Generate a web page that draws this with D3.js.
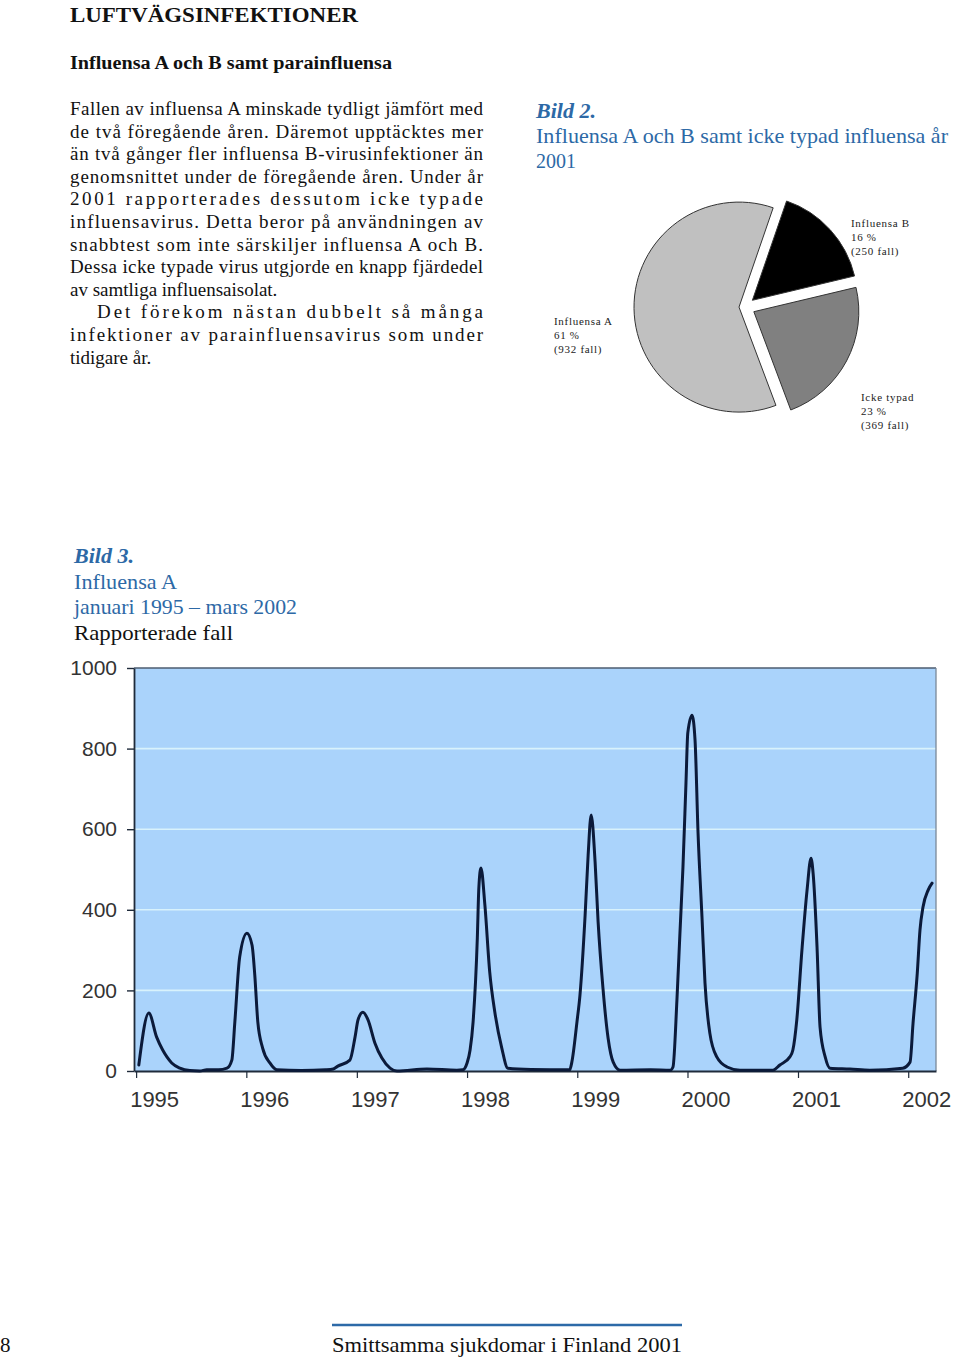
<!DOCTYPE html>
<html><head><meta charset="utf-8">
<script src="https://cdn.jsdelivr.net/npm/d3@7"></script>
<style>
html,body{margin:0;padding:0;background:#fff;}
svg{display:block;}
</style></head>
<body>
<svg id="page" width="960" height="1360"></svg>
<script>
// ---------- DATA ----------
const pieCategories = ["Influensa B", "Icke typad", "Influensa A"];
const piePercents = [16, 23, 61];
const pieCases = [250, 369, 932];

const seriesDates = [
 "1995-01-10","1995-02-12","1995-03-10","1995-03-30","1995-04-13","1995-04-29","1995-05-26","1995-06-28","1995-07-31","1995-08-23","1995-10-01","1995-10-29","1995-11-14","1995-11-24","1995-12-10",
 "1996-01-03","1996-01-20","1996-01-29","1996-02-08","1996-02-24","1996-03-19","1996-04-11","1996-07-01","1996-09-20","1996-10-15","1996-10-30","1996-12-09","1996-12-26",
 "1997-01-05","1997-01-21","1997-02-07","1997-03-02","1997-03-25","1997-04-21","1997-05-14","1997-08-21","1997-11-28","1997-12-18",
 "1998-01-01","1998-01-11","1998-01-21","1998-02-04","1998-02-09","1998-02-16","1998-03-01","1998-03-17","1998-04-03","1998-04-26","1998-05-16","1998-08-01","1998-12-07","1998-12-14","1998-12-31",
 "1999-01-10","1999-01-27","1999-02-06","1999-02-16","1999-03-01","1999-03-11","1999-03-27","1999-04-13","1999-04-30","1999-05-23","1999-09-01","1999-11-05","1999-11-14","1999-11-27","1999-12-07","1999-12-17","1999-12-27",
 "2000-01-02","2000-01-16","2000-01-26","2000-02-05","2000-02-18","2000-02-28","2000-03-15","2000-04-07","2000-05-11","2000-06-23","2000-10-10","2000-11-02","2000-12-05","2000-12-15","2000-12-28",
 "2001-01-14","2001-01-31","2001-02-13","2001-02-20","2001-03-05","2001-03-15","2001-04-01","2001-04-17","2001-06-22","2001-08-27","2001-12-14",
 "2002-01-07","2002-01-17","2002-01-31","2002-02-09","2002-02-19","2002-03-08","2002-03-21"
];
const seriesValues = [
 15,144,84,52,35,20,7,1,0,3,3,7,27,122,283,
 342,312,238,122,57,20,3,1,3,5,12,27,84,
 127,146,127,69,32,7,0,5,2,3,
 20,52,122,330,454,504,412,246,146,57,7,4,3,22,122,
 189,387,536,635,519,370,206,82,22,2,3,2,10,176,342,506,715,
 839,883,821,590,382,218,94,35,10,2,2,15,35,52,127,
 300,449,528,491,308,109,35,7,5,2,7,
 22,119,243,350,407,449,466
];
const yTicks = [0, 200, 400, 600, 800, 1000];
const xTickYears = [1995, 1996, 1997, 1998, 1999, 2000, 2001, 2002];

// ---------- TEXT ----------
const bodyLines = [
 {t:"Fallen av influensa A minskade tydligt jämfört med", j:true},
 {t:"de två föregående åren. Däremot upptäcktes mer", j:true},
 {t:"än två gånger fler influensa B-virusinfektioner än", j:true},
 {t:"genomsnittet under de föregående åren. Under år", j:true},
 {t:"2001 rapporterades dessutom icke typade", j:true},
 {t:"influensavirus. Detta beror på användningen av", j:true},
 {t:"snabbtest som inte särskiljer influensa A och B.", j:true},
 {t:"Dessa icke typade virus utgjorde en knapp fjärdedel", j:true},
 {t:"av samtliga influensaisolat.", j:false},
 {t:"Det förekom nästan dubbelt så många", j:true, indent:27},
 {t:"infektioner av parainfluensavirus som under", j:true},
 {t:"tidigare år.", j:false}
];

const svg = d3.select("#page");
const blue = "#2d69a6";
const serif = "'Liberation Serif', 'Times New Roman', serif";
const sans = "'Liberation Sans', Arial, sans-serif";

function txt(s, x, y, opts = {}) {
  const t = svg.append("text").attr("x", x).attr("y", y).text(s)
    .attr("font-family", opts.family || serif)
    .attr("font-size", opts.size || 19)
    .attr("fill", opts.fill || "#111");
  if (opts.weight) t.attr("font-weight", opts.weight);
  if (opts.style) t.attr("font-style", opts.style);
  if (opts.ls) t.attr("letter-spacing", opts.ls);
  if (opts.w) t.attr("textLength", opts.w).attr("lengthAdjust", "spacingAndGlyphs");
  if (opts.ws) t.attr("textLength", opts.ws).attr("lengthAdjust", "spacing");
  if (opts.anchor) t.attr("text-anchor", opts.anchor);
  return t;
}

// Header
txt("LUFTVÄGSINFEKTIONER", 70, 22, {size:22, weight:"bold", w:288});
txt("Influensa A och B samt parainfluensa", 70, 69, {size:18, weight:"bold", w:322});

// Body paragraph
const bodyLeft = 70, bodyRight = 483, bodyTop = 115, lineH = 22.6;
bodyLines.forEach((l, i) => {
  const x = bodyLeft + (l.indent || 0);
  const y = bodyTop + i * lineH;
  const o = {size:19};
  if (l.j) o.ws = bodyRight - x;
  txt(l.t, x, y, o);
});

// Bild 2 titles
txt("Bild 2.", 536, 118, {size:22, weight:"bold", style:"italic", fill:blue});
txt("Influensa A och B samt icke typad influensa år", 536, 143, {size:22, fill:blue, w:412});
txt("2001", 536, 168, {size:22, fill:blue, w:40});

// ---------- PIE ----------
const pieCx = 745, pieCy = 307, pieR = 105;
const pie = d3.pie().sort(null).value(d => d)
  .startAngle(19 * Math.PI / 180).endAngle(379 * Math.PI / 180);
const arcs = pie(piePercents);
const arcGen = d3.arc().innerRadius(0).outerRadius(pieR);
const pieColors = ["#000000", "#808080", "#c0c0c0"];
const explode = [10, 10, 6];
const gPie = svg.append("g").attr("transform", `translate(${pieCx},${pieCy})`);
gPie.selectAll("path").data(arcs).join("path")
  .attr("d", arcGen)
  .attr("fill", (d, i) => pieColors[i])
  .attr("stroke", "#333")
  .attr("stroke-width", 1)
  .attr("transform", (d, i) => {
    const a = (d.startAngle + d.endAngle) / 2;
    return `translate(${Math.sin(a) * explode[i]},${-Math.cos(a) * explode[i]})`;
  });

const pieLabelPos = [[851, 227], [861, 401], [554, 325]];
arcs.forEach((d, i) => {
  const [lx, ly] = pieLabelPos[i];
  const lines = [pieCategories[i], piePercents[i] + " %", "(" + pieCases[i] + " fall)"];
  lines.forEach((s, k) => txt(s, lx, ly + k * 14.2, {size:11, ls:0.7, fill:"#222"}));
});

// Bild 3 titles
txt("Bild 3.", 74, 563, {size:22, weight:"bold", style:"italic", fill:blue});
txt("Influensa A", 74, 589, {size:22, fill:blue, w:103});
txt("januari 1995 – mars 2002", 74, 614, {size:22, fill:blue, w:223});
txt("Rapporterade fall", 74, 640, {size:22, fill:"#111", w:159});

// ---------- LINE CHART ----------
const plot = {x0:134, x1:936, y0:668, y1:1071};
const parse = d3.timeParse("%Y-%m-%d");
const x = d3.scaleTime()
  .domain([parse("1994-12-25"), parse("2002-04-03")])
  .range([plot.x0, plot.x1]);
const y = d3.scaleLinear().domain([0, 1000]).range([plot.y1, plot.y0]);

const gChart = svg.append("g");
gChart.append("rect")
  .attr("x", plot.x0).attr("y", plot.y0)
  .attr("width", plot.x1 - plot.x0).attr("height", plot.y1 - plot.y0)
  .attr("fill", "#aad3fb");

// gridlines
gChart.append("g").selectAll("line")
  .data(yTicks.filter(v => v > 0 && v < 1000)).join("line")
  .attr("x1", plot.x0).attr("x2", plot.x1)
  .attr("y1", d => y(d)).attr("y2", d => y(d))
  .attr("stroke", "#d8f2fc").attr("stroke-width", 1.6);

// borders top/right
gChart.append("line").attr("x1", plot.x0).attr("x2", plot.x1)
  .attr("y1", plot.y0).attr("y2", plot.y0).attr("stroke", "#4d5d70").attr("stroke-width", 1.3);
gChart.append("line").attr("x1", plot.x1).attr("x2", plot.x1)
  .attr("y1", plot.y0).attr("y2", plot.y1).attr("stroke", "#7a8898").attr("stroke-width", 1.3);

// axes
const yAxis = d3.axisLeft(y).tickValues(yTicks).tickFormat(d3.format("d"))
  .tickSize(7).tickSizeOuter(0).tickPadding(10);
const gy = gChart.append("g").attr("transform", `translate(${plot.x0},0)`).call(yAxis);
gy.select(".domain").attr("stroke", "#1f2b3b").attr("stroke-width", 1.8);
gy.selectAll(".tick line").attr("stroke", "#1f2b3b").attr("stroke-width", 1.4);
gy.selectAll(".tick text").attr("font-family", sans).attr("font-size", 21).attr("fill", "#333");

const xAxis = d3.axisBottom(x)
  .tickValues(xTickYears.map(yr => new Date(yr, 0, 1)))
  .tickFormat(d3.timeFormat("%Y")).tickSize(7).tickSizeOuter(0).tickPadding(13);
const gx = gChart.append("g").attr("transform", `translate(0,${plot.y1})`).call(xAxis);
gx.select(".domain").attr("stroke", "#1f2b3b").attr("stroke-width", 1.8);
gx.selectAll(".tick line").attr("stroke", "#1f2b3b").attr("stroke-width", 1.2);
gx.selectAll(".tick text").attr("font-family", sans).attr("font-size", 22).attr("fill", "#333")
  .attr("dx", 18);

// series line
const series = seriesDates.map((d, i) => ({date: parse(d), value: seriesValues[i]}));
gChart.append("path").datum(series)
  .attr("fill", "none")
  .attr("stroke", "#0b1a3a")
  .attr("stroke-width", 3)
  .attr("stroke-linejoin", "round")
  .attr("stroke-linecap", "round")
  .attr("d", d3.line().curve(d3.curveMonotoneX).x(d => x(d.date)).y(d => y(d.value)));

// ---------- FOOTER ----------
svg.append("line").attr("x1", 332).attr("x2", 682).attr("y1", 1325).attr("y2", 1325)
  .attr("stroke", "#2d6aa8").attr("stroke-width", 2.5);
txt("8", 0, 1352, {size:21});
txt("Smittsamma sjukdomar i Finland 2001", 332, 1352, {size:21, w:350});
</script>
</body></html>
